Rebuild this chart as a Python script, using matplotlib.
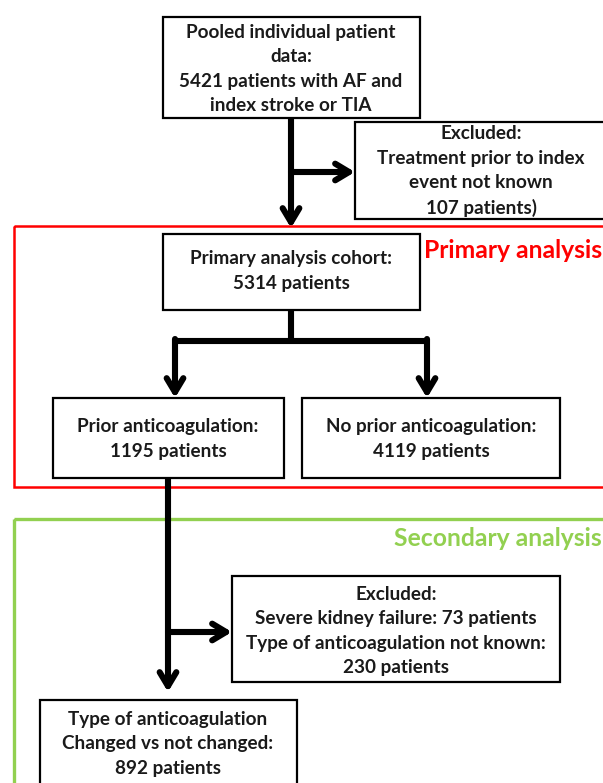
import matplotlib.pyplot as plt
from matplotlib.patches import Rectangle

# flowchart content
total_patients = 5421
excluded_unknown = 107
primary_cohort = 5314
prior_ac = 1195
no_prior_ac = 4119
kidney_failure = 73
type_unknown = 230
secondary_cohort = 892

box_texts = [
    f"Pooled individual patient\ndata:\n{total_patients} patients with AF and\nindex stroke or TIA",
    f"Excluded:\nTreatment prior to index\nevent not known\n{excluded_unknown} patients)",
    f"Primary analysis cohort:\n{primary_cohort} patients",
    f"Prior anticoagulation:\n{prior_ac} patients",
    f"No prior anticoagulation:\n{no_prior_ac} patients",
    f"Excluded:\nSevere kidney failure: {kidney_failure} patients\nType of anticoagulation not known:\n{type_unknown} patients",
    f"Type of anticoagulation\nChanged vs not changed:\n{secondary_cohort} patients",
]
group_labels = ["Primary analysis", "Secondary analysis"]

# layout (pixels, y down): x0, y0, x1, y1, text centre x, text centre y
boxes = [
    (163, 17, 420, 118, 291, 69),
    (355, 122, 640, 219, 481, 171),
    (163, 234, 420, 310, 291, 271),
    (53, 398, 284, 478, 168, 439),
    (302, 398, 560, 478, 431, 439),
    (232, 576, 560, 682, 396, 631),
    (40, 700, 297, 820, 168, 744),
]

W, H = 603, 783
fig = plt.figure(figsize=(W / 100, H / 100), dpi=100)
ax = fig.add_axes([0, 0, 1, 1])
ax.set_xlim(0, W)
ax.set_ylim(H, 0)
ax.axis("off")

font = dict(family="Lato", fontweight="bold", fontsize=13.6, color="#1a1a1a")
red = "#ff0000"
green = "#92d050"

# group frames
ax.add_patch(Rectangle((14, 226), 640, 261, fill=False, ec=red, lw=1.8, zorder=1))
ax.add_patch(Rectangle((14, 519), 640, 300, fill=False, ec=green, lw=2.4, zorder=1))
ax.text(602, 251, group_labels[0], ha="right", va="center", color=red,
        family="Lato", fontweight="bold", fontsize=17.8)
ax.text(602, 539, group_labels[1], ha="right", va="center", color=green,
        family="Lato", fontweight="bold", fontsize=17.8)

# connector lines
lw = 4.4
def line(xs, ys):
    ax.plot(xs, ys, color="black", lw=lw, solid_capstyle="butt", zorder=2)

def arrow(x0, y0, x1, y1):
    ax.annotate("", xy=(x1, y1), xytext=(x0, y0),
                arrowprops=dict(arrowstyle="->,head_length=1.0,head_width=0.6",
                                color="black", lw=lw, shrinkA=0, shrinkB=0),
                zorder=3)

arrow(291, 118, 291, 228)
arrow(291, 172, 355, 172)
line([291, 291], [310, 341])
line([175, 427], [341, 341])
arrow(175, 339, 175, 398)
arrow(427, 339, 427, 398)
arrow(168, 478, 168, 692)
arrow(168, 632, 232, 632)

for (x0, y0, x1, y1, tx, ty), txt in zip(boxes, box_texts):
    ax.add_patch(Rectangle((x0, y0), x1 - x0, y1 - y0, fc="white", ec="black",
                           lw=1.6, zorder=4))
    ax.text(tx, ty, txt, ha="center", va="center", linespacing=1.52, zorder=5, **font)

fig.savefig("out.png", dpi=100)
